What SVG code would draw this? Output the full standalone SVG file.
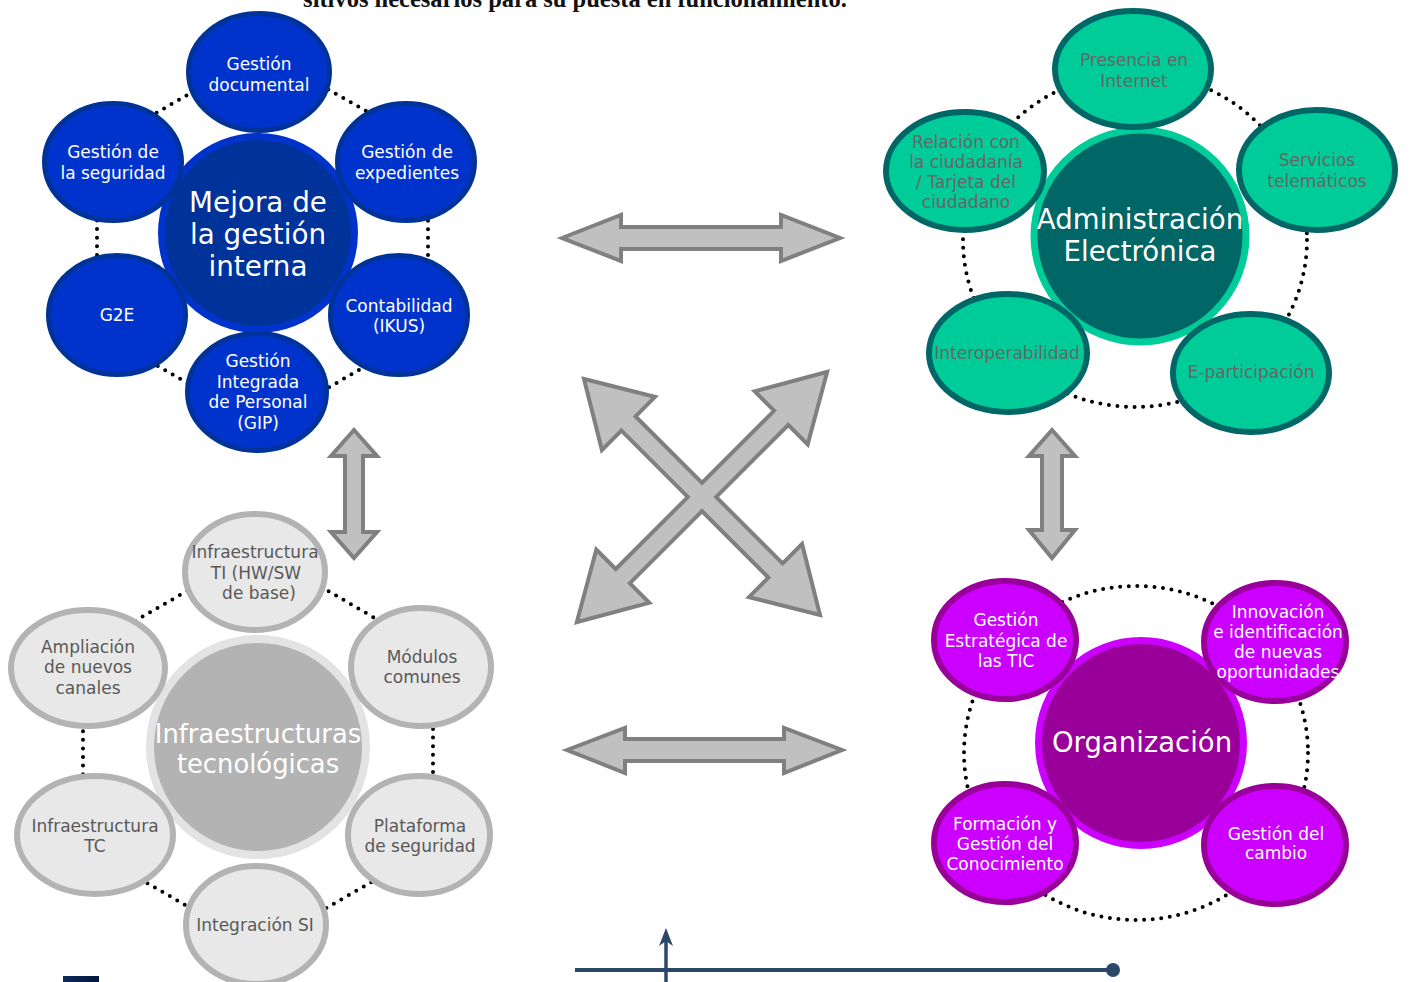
<svg xmlns="http://www.w3.org/2000/svg" width="1410" height="982" viewBox="0 0 1410 982">
<defs>
<style>
text{font-family:"DejaVu Sans","Liberation Sans",sans-serif;text-anchor:middle}
.s{font-size:17px}
.w{fill:#ffffff}
.gt{fill:#666666}
.gy{fill:#595959}
.dots{fill:none;stroke:#000;stroke-width:4;stroke-linecap:round;stroke-dasharray:0 8.6}
.arr{fill:#c0c0c0;stroke:#808080;stroke-width:4}
.xo{fill:#808080;stroke:#808080;stroke-width:8}
.xf{fill:#c0c0c0}
.bs{fill:#0033cc;stroke:#003399;stroke-width:5}
.bc{fill:#003399;stroke:#0033cc;stroke-width:7}
.gs{fill:#00cc99;stroke:#006666;stroke-width:6}
.gc{fill:#006666;stroke:#00cc99;stroke-width:7}
.ps{fill:#cc00ff;stroke:#990099;stroke-width:6}
.pc{fill:#990099;stroke:#cc00ff;stroke-width:7}
.ys{fill:#e8e8e8;stroke:#b3b3b3;stroke-width:6}
.yc{fill:#b3b3b3;stroke:#e3e3e3;stroke-width:8}
</style>
<linearGradient id="navy" x1="0" y1="0" x2="1" y2="0">
<stop offset="0" stop-color="#0c2a5e"/>
<stop offset="1" stop-color="#04163a"/>
</linearGradient>
</defs>
<rect width="1410" height="982" fill="#ffffff"/>
<text x="575" y="7" style="font-family:'Liberation Serif',serif;font-weight:bold;font-size:24.5px;fill:#111">sitivos necesarios para su puesta en funcionamiento.</text>

<g id="connectors">
<polygon class="dots" points="97,147 262,52 428,146 428,330 262,426 97,331"/>
<polygon class="dots" points="83,651 258,550 433,652 433,847 258,947 83,846"/>
<ellipse class="dots" cx="1135" cy="240" rx="172" ry="167"/>
<ellipse class="dots" cx="1136" cy="753" rx="172" ry="167"/>
<polygon class="arr" points="562,238 621,215 621,227 781,227 781,215 840,238 781,261 781,249 621,249 621,261"/>
<polygon class="arr" points="567,750 625,728 625,739 784,739 784,728 842,750 784,773 784,761 625,761 625,773"/>
<polygon class="arr" points="354,430 377,456 363,456 363,532 377,532 354,558 331,532 345,532 345,456 331,456"/>
<polygon class="arr" points="1052,430 1075,456 1062,456 1062,530 1075,530 1052,558 1029,530 1042,530 1042,456 1029,456"/>
<g id="x-arrows">
<polygon class="xo" transform="translate(702,497) rotate(45)" points="-163,0 -106,-34 -106,-8 106,-8 106,-34 163,0 106,34 106,8 -106,8 -106,34"/>
<polygon class="xo" transform="translate(702,497) rotate(-45)" points="-173,0 -114,-34 -114,-8 114,-8 114,-34 173,0 114,34 114,8 -114,8 -114,34"/>
<polygon class="xf" transform="translate(702,497) rotate(45)" points="-163,0 -106,-34 -106,-8 106,-8 106,-34 163,0 106,34 106,8 -106,8 -106,34"/>
<polygon class="xf" transform="translate(702,497) rotate(-45)" points="-173,0 -114,-34 -114,-8 114,-8 114,-34 173,0 114,34 114,8 -114,8 -114,34"/>
</g>
<g id="timeline" stroke="#2b4868" fill="#2b4868">
<line x1="575" y1="970" x2="1113" y2="970" stroke-width="4"/>
<circle cx="1113" cy="970" r="7" stroke="none"/>
<line x1="666" y1="982" x2="666" y2="938" stroke-width="3.5"/>
<path d="M666,928 L673,946 L666,941 L659,946 Z" stroke="none"/>
</g>
</g>

<g id="mejora-gestion-interna">
<circle class="bc" cx="258" cy="233" r="96.5"/>
<text class="w" x="258" y="212" style="font-size:27.8px">Mejora de</text>
<text class="w" x="258" y="244" style="font-size:27.8px">la gestión</text>
<text class="w" x="258" y="276" style="font-size:27.8px">interna</text>
</g>
<g id="gestion-documental"><ellipse class="bs" cx="259" cy="72" rx="70.5" ry="58.5"/><text class="w s" x="259" y="70">Gestión</text><text class="w s" x="259" y="90.5">documental</text></g>
<g id="gestion-expedientes"><ellipse class="bs" cx="406" cy="162" rx="68.5" ry="58.5"/><text class="w s" x="407" y="158">Gestión de</text><text class="w s" x="407" y="179">expedientes</text></g>
<g id="contabilidad"><ellipse class="bs" cx="399" cy="315" rx="68.5" ry="59.5"/><text class="w s" x="399" y="312">Contabilidad</text><text class="w s" x="399" y="332">(IKUS)</text></g>
<g id="gip"><ellipse class="bs" cx="257" cy="392" rx="69.5" ry="58.5"/><text class="w s" x="258" y="367">Gestión</text><text class="w s" x="258" y="388">Integrada</text><text class="w s" x="258" y="408">de Personal</text><text class="w s" x="258" y="429">(GIP)</text></g>
<g id="g2e"><ellipse class="bs" cx="117" cy="315" rx="68.5" ry="59.5"/><text class="w s" x="117" y="321">G2E</text></g>
<g id="gestion-seguridad"><ellipse class="bs" cx="113" cy="162" rx="68.5" ry="58.5"/><text class="w s" x="113" y="158">Gestión de</text><text class="w s" x="113" y="179">la seguridad</text></g>

<g id="administracion-electronica">
<circle class="gc" cx="1140" cy="236" r="106"/>
<text class="w" x="1140" y="229" style="font-size:27.6px">Administración</text>
<text class="w" x="1140" y="261" style="font-size:27.6px">Electrónica</text>
</g>
<g id="presencia-internet"><ellipse class="gs" cx="1133" cy="69" rx="78" ry="58"/><text class="gt s" x="1134" y="66">Presencia en</text><text class="gt s" x="1134" y="87">Internet</text></g>
<g id="servicios-telematicos"><ellipse class="gs" cx="1317" cy="170" rx="78" ry="60"/><text class="gt s" x="1317" y="166">Servicios</text><text class="gt s" x="1317" y="187">telemáticos</text></g>
<g id="e-participacion"><ellipse class="gs" cx="1251" cy="373" rx="78" ry="59"/><text class="gt s" x="1251" y="378">E-participación</text></g>
<g id="interoperabilidad"><ellipse class="gs" cx="1008" cy="353" rx="79" ry="59"/><text class="gt s" x="1007" y="359">Interoperabilidad</text></g>
<g id="relacion-ciudadania"><ellipse class="gs" cx="965" cy="171" rx="79" ry="59"/><text class="gt s" x="966" y="148">Relación con</text><text class="gt s" x="966" y="168">la ciudadanía</text><text class="gt s" x="966" y="188">/ Tarjeta del</text><text class="gt s" x="966" y="208">ciudadano</text></g>

<g id="infraestructuras-tecnologicas">
<circle class="yc" cx="258" cy="747" r="108"/>
<text class="w" x="258" y="743" style="font-size:25.8px">Infraestructuras</text>
<text class="w" x="258" y="773" style="font-size:25.8px">tecnológicas</text>
</g>
<g id="infra-ti"><ellipse class="ys" cx="255" cy="572" rx="70" ry="58"/><text class="gy s" x="255" y="558">Infraestructura</text><text class="gy s" x="256" y="579">TI (HW/SW</text><text class="gy s" x="259" y="599">de base)</text></g>
<g id="modulos-comunes"><ellipse class="ys" cx="421" cy="667" rx="70" ry="59"/><text class="gy s" x="422" y="663">Módulos</text><text class="gy s" x="422" y="683">comunes</text></g>
<g id="plataforma-seguridad"><ellipse class="ys" cx="419" cy="835" rx="71" ry="59"/><text class="gy s" x="420" y="832">Plataforma</text><text class="gy s" x="420" y="852">de seguridad</text></g>
<g id="integracion-si"><ellipse class="ys" cx="256" cy="925" rx="70" ry="59"/><text class="gy s" x="255" y="931">Integración SI</text></g>
<g id="infra-tc"><ellipse class="ys" cx="95" cy="835" rx="78" ry="59"/><text class="gy s" x="95" y="832">Infraestructura</text><text class="gy s" x="95" y="852">TC</text></g>
<g id="ampliacion-canales"><ellipse class="ys" cx="88" cy="668" rx="77" ry="58"/><text class="gy s" x="88" y="653">Ampliación</text><text class="gy s" x="88" y="673">de nuevos</text><text class="gy s" x="88" y="694">canales</text></g>

<g id="organizacion">
<circle class="pc" cx="1141" cy="743" r="102.5"/>
<text class="w" x="1142" y="752" style="font-size:27.5px">Organización</text>
</g>
<g id="gestion-estrategica"><ellipse class="ps" cx="1005" cy="640" rx="71" ry="59"/><text class="w s" x="1006" y="626">Gestión</text><text class="w s" x="1006" y="647">Estratégica de</text><text class="w s" x="1006" y="667">las TIC</text></g>
<g id="innovacion"><ellipse class="ps" cx="1275" cy="642" rx="71" ry="59"/><text class="w s" x="1278" y="618">Innovación</text><text class="w s" x="1278" y="638">e identificación</text><text class="w s" x="1278" y="658">de nuevas</text><text class="w s" x="1278" y="678">oportunidades</text></g>
<g id="formacion"><ellipse class="ps" cx="1005" cy="843" rx="71" ry="59"/><text class="w s" x="1005" y="830">Formación y</text><text class="w s" x="1005" y="850">Gestión del</text><text class="w s" x="1005" y="870">Conocimiento</text></g>
<g id="gestion-cambio"><ellipse class="ps" cx="1275" cy="845" rx="71" ry="59"/><text class="w s" x="1276" y="840">Gestión del</text><text class="w s" x="1276" y="859">cambio</text></g>

<rect x="63" y="976" width="36" height="6" fill="url(#navy)"/>
</svg>
